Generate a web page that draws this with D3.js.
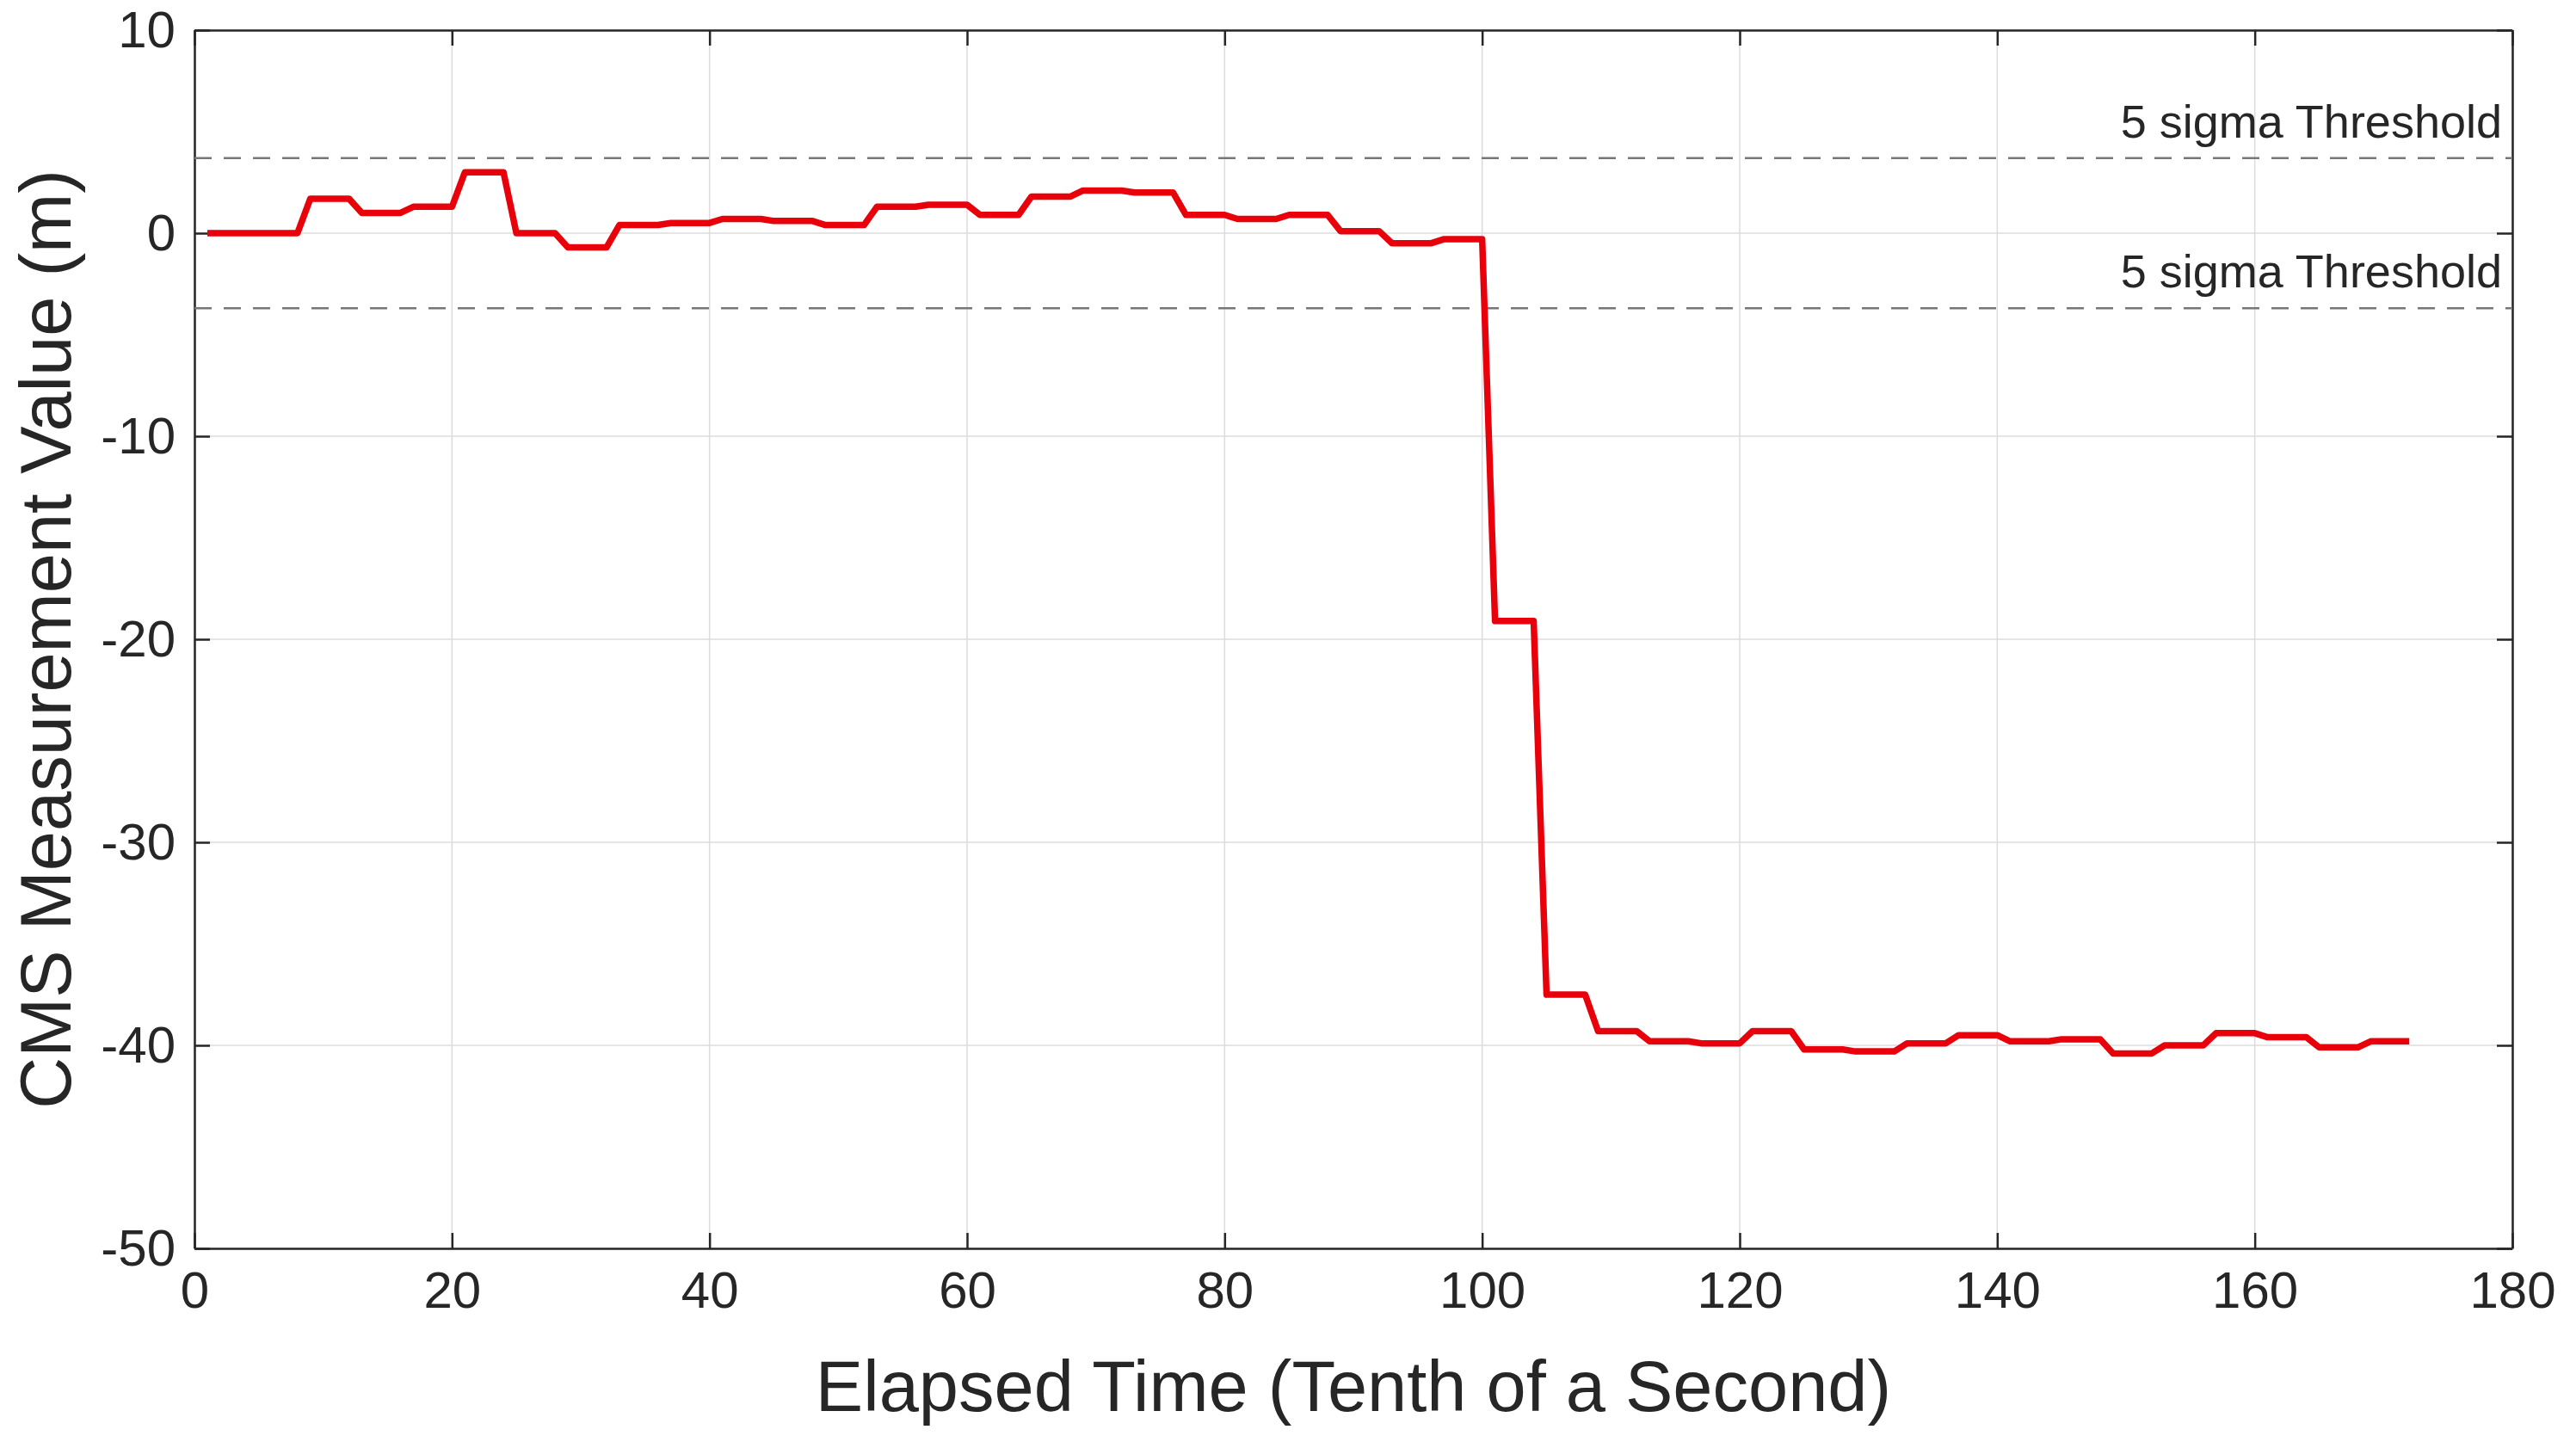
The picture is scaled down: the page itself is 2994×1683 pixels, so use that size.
<!DOCTYPE html>
<html lang="en">
<head>
<meta charset="UTF-8">
<script src="https://cdn.jsdelivr.net/npm/d3@7"></script>
<style>
  body { margin: 0; background: #fff; }
  svg { font-family: "Liberation Sans", Arial, sans-serif; }
</style>
</head>
<body>
<svg id="chart" width="2994" height="1683"></svg>
<script>
// CMS measurement samples, t = 1..172 (tenth of a second)
const values = [
  0, 0, 0, 0, 0, 0, 0, 0,
  1.7, 1.7, 1.7, 1.7, 1.0, 1.0, 1.0, 1.0, 1.3, 1.3, 1.3, 1.3,
  3.0, 3.0, 3.0, 3.0, 0, 0, 0, 0, -0.7, -0.7, -0.7, -0.7,
  0.4, 0.4, 0.4, 0.4, 0.5, 0.5, 0.5, 0.5, 0.7, 0.7, 0.7, 0.7,
  0.6, 0.6, 0.6, 0.6, 0.4, 0.4, 0.4, 0.4, 1.3, 1.3, 1.3, 1.3,
  1.4, 1.4, 1.4, 1.4, 0.9, 0.9, 0.9, 0.9, 1.8, 1.8, 1.8, 1.8,
  2.1, 2.1, 2.1, 2.1, 2.0, 2.0, 2.0, 2.0, 0.9, 0.9, 0.9, 0.9,
  0.7, 0.7, 0.7, 0.7, 0.9, 0.9, 0.9, 0.9, 0.1, 0.1, 0.1, 0.1,
  -0.5, -0.5, -0.5, -0.5, -0.3, -0.3, -0.3, -0.3,
  -19.1, -19.1, -19.1, -19.1, -37.5, -37.5, -37.5, -37.5,
  -39.3, -39.3, -39.3, -39.3, -39.8, -39.8, -39.8, -39.8,
  -39.9, -39.9, -39.9, -39.9, -39.3, -39.3, -39.3, -39.3,
  -40.2, -40.2, -40.2, -40.2, -40.3, -40.3, -40.3, -40.3,
  -39.9, -39.9, -39.9, -39.9, -39.5, -39.5, -39.5, -39.5,
  -39.8, -39.8, -39.8, -39.8, -39.7, -39.7, -39.7, -39.7,
  -40.4, -40.4, -40.4, -40.4, -40.0, -40.0, -40.0, -40.0,
  -39.4, -39.4, -39.4, -39.4, -39.6, -39.6, -39.6, -39.6,
  -40.1, -40.1, -40.1, -40.1, -39.8, -39.8, -39.8, -39.8
];
const thresholds = [3.7, -3.7];
const thresholdLabel = "5 sigma Threshold";
const xTicks = [0, 20, 40, 60, 80, 100, 120, 140, 160, 180];
const yTicks = [10, 0, -10, -20, -30, -40, -50];

const margin = {left: 226, right: 74, top: 35, bottom: 232};
const W = 2994, H = 1683;
const svg = d3.select("#chart");
const x = d3.scaleLinear().domain([0, 180]).range([margin.left, W - margin.right]);
const y = d3.scaleLinear().domain([-50, 10]).range([H - margin.bottom, margin.top]);

// grid
svg.append("g").selectAll("line").data(xTicks).join("line")
  .attr("x1", d => x(d)).attr("x2", d => x(d))
  .attr("y1", y(10)).attr("y2", y(-50))
  .attr("stroke", "#dcdcdc").attr("stroke-width", 1.5);
svg.append("g").selectAll("line").data(yTicks).join("line")
  .attr("x1", x(0)).attr("x2", x(180))
  .attr("y1", d => y(d)).attr("y2", d => y(d))
  .attr("stroke", "#dcdcdc").attr("stroke-width", 1.5);

// axes (inward ticks, MATLAB style), plain hyphen minus
const tk = 18;
const fmt = d => String(d);
const axisStyle = g => {
  g.select(".domain").attr("stroke", "#262626").attr("stroke-width", 2.5);
  g.selectAll(".tick line").attr("stroke", "#262626").attr("stroke-width", 2.5);
  g.selectAll(".tick text").attr("fill", "#262626").style("font-size", "60px");
};
svg.append("g").attr("transform", `translate(0,${y(-50)})`)
  .call(d3.axisBottom(x).tickValues(xTicks).tickFormat(fmt).tickSize(-tk).tickPadding(26).tickSizeOuter(0))
  .call(axisStyle);
svg.append("g").attr("transform", `translate(0,${y(10)})`)
  .call(d3.axisTop(x).tickValues(xTicks).tickSize(-tk).tickFormat("").tickSizeOuter(0))
  .call(axisStyle);
svg.append("g").attr("transform", `translate(${x(0)},0)`)
  .call(d3.axisLeft(y).tickValues(yTicks).tickFormat(fmt).tickSize(-tk).tickPadding(22).tickSizeOuter(0))
  .call(axisStyle);
svg.append("g").attr("transform", `translate(${x(180)},0)`)
  .call(d3.axisRight(y).tickValues(yTicks).tickSize(-tk).tickFormat("").tickSizeOuter(0))
  .call(axisStyle);

// thresholds
thresholds.forEach(t => {
  svg.append("line")
    .attr("x1", x(0)).attr("x2", x(180))
    .attr("y1", y(t)).attr("y2", y(t))
    .attr("stroke", "#777").attr("stroke-width", 2.5)
    .attr("stroke-dasharray", "20,14");
  svg.append("text")
    .attr("x", x(180) - 12).attr("y", y(t) - 24)
    .attr("text-anchor", "end")
    .attr("fill", "#262626").style("font-size", "54px")
    .text(thresholdLabel);
});

// data line
const line = d3.line().x((d, i) => x(i + 1)).y(d => y(d));
svg.append("path").datum(values)
  .attr("d", line)
  .attr("fill", "none").attr("stroke", "#e8000b")
  .attr("stroke-width", 7.5).attr("stroke-linejoin", "round");

// labels
svg.append("text")
  .attr("x", (x(0) + x(180)) / 2).attr("y", 1640)
  .attr("text-anchor", "middle").attr("fill", "#262626")
  .style("font-size", "83px")
  .text("Elapsed Time (Tenth of a Second)");
svg.append("text")
  .attr("transform", `translate(82,${(y(10) + y(-50)) / 2}) rotate(-90)`)
  .attr("text-anchor", "middle").attr("fill", "#262626")
  .style("font-size", "83px")
  .text("CMS Measurement Value (m)");
</script>
</body>
</html>
